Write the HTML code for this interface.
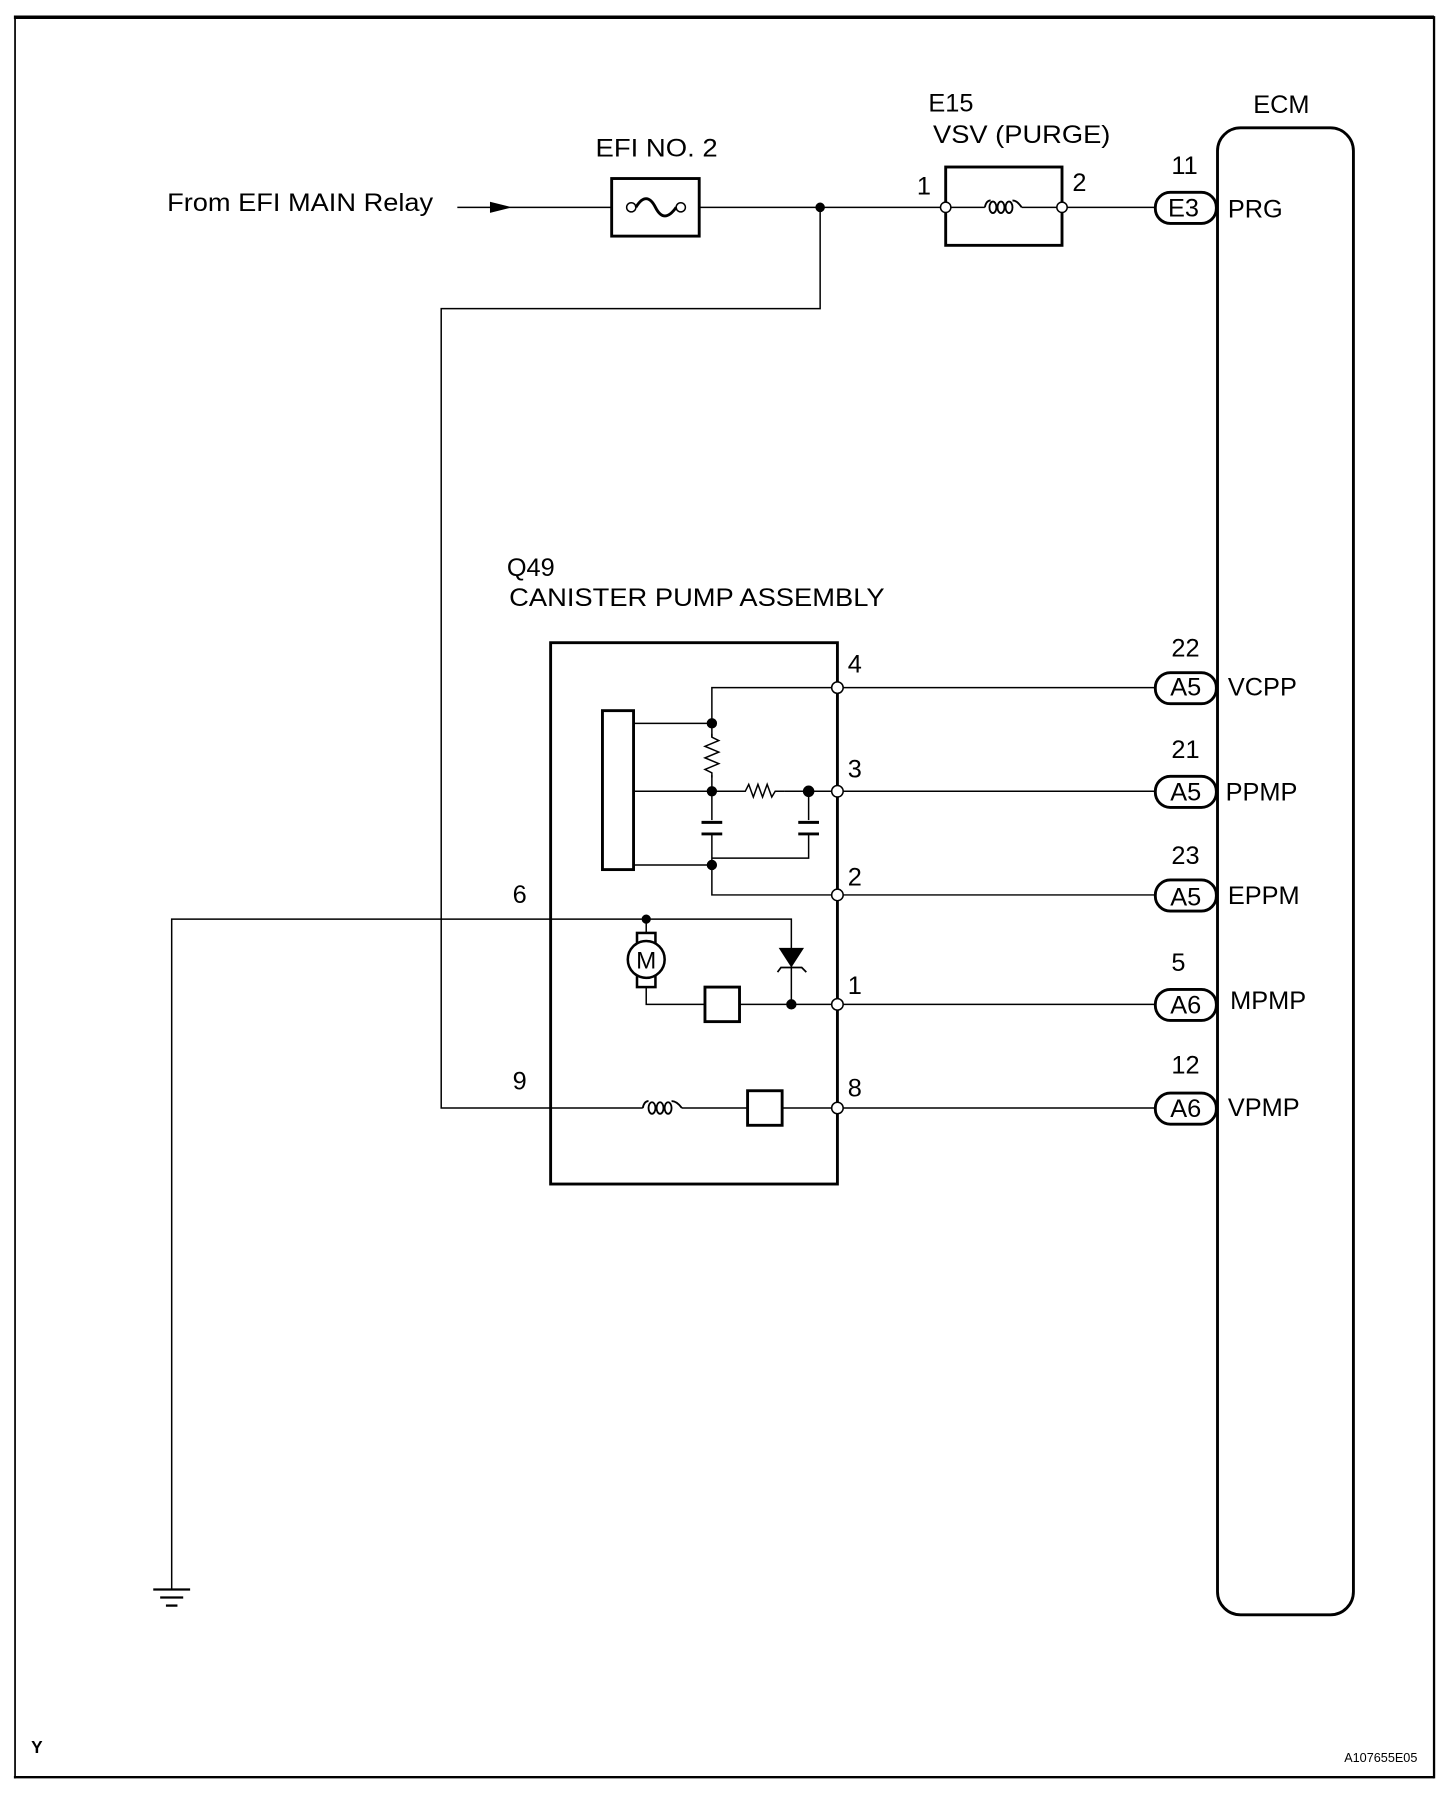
<!DOCTYPE html>
<html><head><style>html,body{margin:0;padding:0;background:#fff}svg{display:block}</style></head>
<body>
<svg width="1456" height="1806" viewBox="0 0 1264 1568" xmlns="http://www.w3.org/2000/svg" font-family="Liberation Sans, sans-serif" font-size="22" fill="none" stroke="#000">
<g stroke-width="1.5">
<line x1="12" y1="15" x2="1245" y2="15" stroke-width="3"/>
<line x1="13" y1="14" x2="13" y2="1544"/>
<line x1="1245" y1="14" x2="1245" y2="1544" stroke-width="2"/>
<line x1="12" y1="1543" x2="1245" y2="1543" stroke-width="2"/>
</g>
<g fill="#000" stroke="none">
<text x="145" y="183" textLength="231" lengthAdjust="spacingAndGlyphs">From EFI MAIN Relay</text>
<text x="517" y="136" textLength="106" lengthAdjust="spacingAndGlyphs">EFI NO. 2</text>
<text x="806" y="97">E15</text>
<text x="810" y="124" textLength="154" lengthAdjust="spacingAndGlyphs">VSV (PURGE)</text>
<text x="1088" y="98">ECM</text>
<text x="796" y="169">1</text>
<text x="931" y="166">2</text>
<text x="1017" y="151">11</text>
<text x="1066" y="189">PRG</text>
<text x="440" y="500">Q49</text>
<text x="442" y="526" textLength="326" lengthAdjust="spacingAndGlyphs">CANISTER PUMP ASSEMBLY</text>
<text x="736" y="584">4</text><text x="736" y="675">3</text><text x="736" y="769">2</text><text x="736" y="863">1</text><text x="736" y="952">8</text>
<text x="445" y="784">6</text><text x="445" y="946">9</text>
<text x="1017" y="570">22</text><text x="1017" y="658">21</text><text x="1017" y="750">23</text><text x="1017" y="843">5</text><text x="1017" y="932">12</text>
<text x="1066" y="604">VCPP</text><text x="1064" y="695">PPMP</text><text x="1066" y="785">EPPM</text><text x="1068" y="876">MPMP</text><text x="1066" y="969">VPMP</text>
<text x="27" y="1522" font-weight="bold" font-size="15">Y</text>
<text x="1167" y="1530" font-size="11">A107655E05</text>
</g>
<g stroke-width="1.3">
<line x1="397" y1="180" x2="531" y2="180"/>
<polygon points="426,176 442,180 426,184" fill="#000"/>
<line x1="607" y1="180" x2="817" y2="180"/>
<line x1="926" y1="180" x2="1003" y2="180"/>
<polyline points="712,180 712,268 383,268 383,962 558,962"/>
<line x1="592" y1="962" x2="649" y2="962"/>
<line x1="679" y1="962" x2="723" y2="962"/>
<line x1="731" y1="962" x2="1003" y2="962"/>
<polyline points="149,1380 149,798 687,798 687,830"/>
<line x1="133" y1="1380" x2="165" y2="1380" stroke-width="2"/>
<line x1="139" y1="1387" x2="159" y2="1387" stroke-width="2"/>
<line x1="144" y1="1394" x2="154" y2="1394" stroke-width="2"/>
<circle cx="712" cy="180" r="3.5" fill="#000"/>
</g>
<rect x="531" y="155" width="76" height="50" stroke-width="2.5"/>
<g stroke-width="1.3">
<circle cx="548" cy="180" r="4" fill="#fff"/><circle cx="591" cy="180" r="4" fill="#fff"/>
<path d="M552,180 C558,170 564,170 569,180 C574,190 580,190 587,180" stroke-width="2.5"/>
</g>
<rect x="821" y="145" width="101" height="68" stroke-width="2.5"/>
<g stroke-width="1.3">
<line x1="825" y1="180" x2="855" y2="180"/><line x1="887" y1="180" x2="918" y2="180"/>
<g stroke-width="1.6">
<path d="M855,180 c1,-5 3,-6 5,-6"/>
<ellipse cx="862" cy="180" rx="3" ry="5"/><ellipse cx="869" cy="180" rx="3" ry="5"/><ellipse cx="876" cy="180" rx="3" ry="5"/>
<path d="M879,174 c3,0 5,2 8,6"/>
</g>
<circle cx="821" cy="180" r="4.5" fill="#fff"/><circle cx="922" cy="180" r="4.5" fill="#fff"/>
</g>
<rect x="1057" y="111" width="118" height="1291" rx="20" stroke-width="2.5"/>
<g stroke-width="2.5" fill="#fff">
<rect x="1003" y="167" width="53" height="27" rx="13"/>
<rect x="1003" y="584" width="53" height="27" rx="13"/>
<rect x="1003" y="674" width="53" height="27" rx="13"/>
<rect x="1003" y="764" width="53" height="27" rx="13"/>
<rect x="1003" y="859" width="53" height="27" rx="13"/>
<rect x="1003" y="949" width="53" height="27" rx="13"/>
</g>
<g fill="#000" stroke="none">
<text x="1014" y="188">E3</text>
<text x="1016" y="604">A5</text><text x="1016" y="695">A5</text><text x="1016" y="786">A5</text><text x="1016" y="880">A6</text><text x="1016" y="970">A6</text>
</g>
<rect x="478" y="558" width="249" height="470" stroke-width="2.5"/>
<g stroke-width="1.3">
<line x1="731" y1="597" x2="1003" y2="597"/>
<line x1="731" y1="687" x2="1003" y2="687"/>
<line x1="731" y1="777" x2="1003" y2="777"/>
<line x1="731" y1="872" x2="1003" y2="872"/>
<polyline points="723,597 618,597 618,777 723,777"/>
<line x1="550" y1="628" x2="618" y2="628"/>
<line x1="550" y1="687" x2="645" y2="687"/>
<line x1="550" y1="751" x2="618" y2="751"/>
<line x1="680" y1="687" x2="723" y2="687"/>
<polyline points="702,687 702,745 618,745"/>
<polyline points="561,797 561,810"/>
<polyline points="561,857 561,872 612,872"/>
<line x1="642" y1="872" x2="723" y2="872"/>
<line x1="687" y1="838" x2="687" y2="872"/>
</g>
<rect x="523" y="617" width="27" height="138" stroke-width="2.5" fill="#fff"/>
<g stroke-width="1.3" fill="none">
<rect x="605" y="640" width="26" height="33" fill="#fff" stroke="none"/>
<polyline points="618,637 618,640 624,643 612,648 624,653 612,658 624,663 612,668 618,671 618,675"/>
<rect x="645" y="675" width="36" height="20" fill="#fff" stroke="none"/>
<polyline points="643,687 647,687 650,681 654,692 658,681 662,692 666,681 670,692 673,687 681,687"/>
<rect x="605" y="712" width="26" height="13" fill="#fff" stroke="none"/>
<rect x="689" y="712" width="26" height="13" fill="#fff" stroke="none"/>
<line x1="609" y1="714" x2="627" y2="714" stroke-width="2.5"/><line x1="609" y1="724" x2="627" y2="724" stroke-width="2.5"/>
<line x1="693" y1="714" x2="711" y2="714" stroke-width="2.5"/><line x1="693" y1="724" x2="711" y2="724" stroke-width="2.5"/>
</g>
<g fill="#000">
<circle cx="618" cy="628" r="4"/><circle cx="618" cy="687" r="4"/><circle cx="618" cy="751" r="4"/>
<circle cx="702" cy="687" r="4.5"/><circle cx="561" cy="798" r="3.5"/><circle cx="687" cy="872" r="4"/>
</g>
<rect x="553" y="810" width="16" height="47" stroke-width="2.2" fill="#fff"/>
<circle cx="561" cy="833" r="16" stroke-width="2.2" fill="#fff"/>
<text x="561" y="841" fill="#000" stroke="none" font-size="21" text-anchor="middle">M</text>
<rect x="612" y="857" width="30" height="30" stroke-width="2.5" fill="#fff"/>
<polygon points="676,823 698,823 687,840" fill="#000" stroke="none"/>
<polyline points="675,844 678,840 696,840 700,844" stroke-width="1.5"/>
<g stroke-width="1.6">
<path d="M558,962 c1,-5 3,-6 5,-6"/>
<ellipse cx="566" cy="962" rx="3" ry="5"/><ellipse cx="573" cy="962" rx="3" ry="5"/><ellipse cx="580" cy="962" rx="3" ry="5"/>
<path d="M583,956 c3,0 6,2 9,6"/>
</g>
<rect x="649" y="947" width="30" height="30" stroke-width="2.5" fill="#fff"/>
<g stroke-width="1.3" fill="#fff">
<circle cx="727" cy="597" r="5"/><circle cx="727" cy="687" r="5"/><circle cx="727" cy="777" r="5"/><circle cx="727" cy="872" r="5"/><circle cx="727" cy="962" r="5"/>
</g>
</svg>
</body></html>
